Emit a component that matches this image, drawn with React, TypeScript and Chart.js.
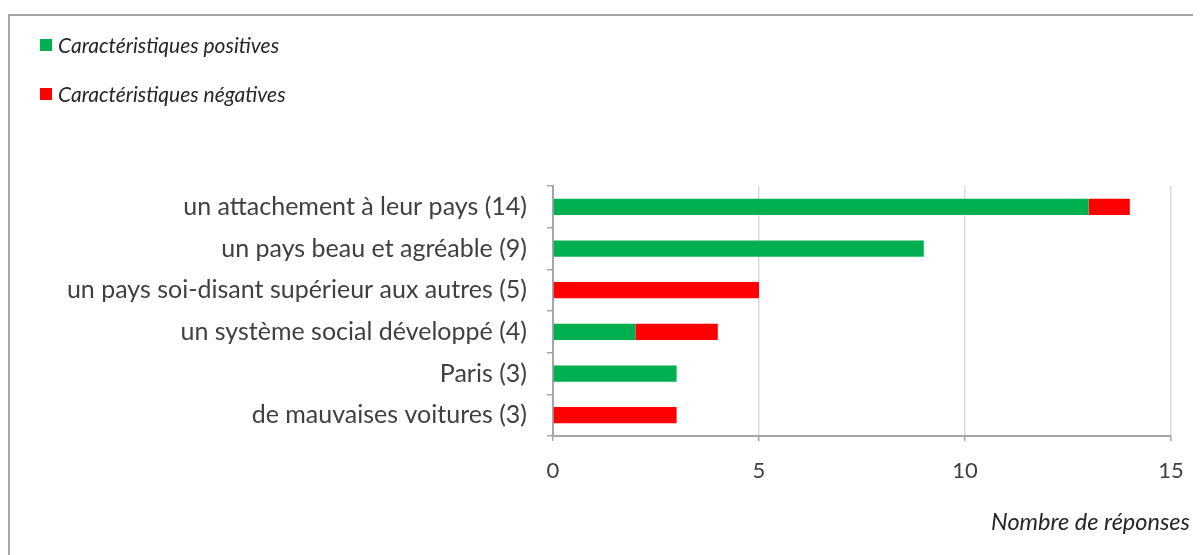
import React, { useEffect, useRef } from "react";
import { Chart, registerables } from "chart.js";

Chart.register(...registerables);

const categories = [
  "un attachement à leur pays (14)",
  "un pays beau et agréable (9)",
  "un pays soi-disant supérieur aux autres (5)",
  "un système social développé (4)",
  "Paris (3)",
  "de mauvaises voitures (3)",
];
const positiveValues = [13, 9, 0, 2, 3, 0];
const negativeValues = [1, 0, 5, 2, 0, 3];
const seriesNames = ["Caractéristiques positives", "Caractéristiques négatives"];
const seriesColors = ["#00b050", "#ff0000"];
const axisTitle = "Nombre de réponses";

const FONT = "Lato, sans-serif";
const TEXT = "#404040";

export default function App() {
  const ref = useRef<HTMLCanvasElement | null>(null);

  useEffect(() => {
    document.body.style.overflow = "hidden";
    const ctx = ref.current!;
    const chart = new Chart(ctx, {
      type: "bar",
      data: {
        labels: categories,
        datasets: [
          {
            label: seriesNames[0],
            data: positiveValues,
            backgroundColor: seriesColors[0],
            barPercentage: 0.78,
            categoryPercentage: 0.5,
          },
          {
            label: seriesNames[1],
            data: negativeValues,
            backgroundColor: seriesColors[1],
            barPercentage: 0.78,
            categoryPercentage: 0.5,
          },
        ],
      },
      options: {
        indexAxis: "y",
        responsive: false,
        animation: false,
        layout: { padding: { top: 178, right: 30, left: 0, bottom: 0 } },
        plugins: {
          legend: { display: false },
          tooltip: { enabled: false },
        },
        scales: {
          x: {
            stacked: true,
            min: 0,
            max: 15,
            ticks: {
              stepSize: 5,
              color: TEXT,
              font: { family: FONT, size: 22 },
              padding: 17,
            },
            grid: {
              color: "#d9d9d9",
              lineWidth: 1.5,
              tickLength: 5,
              tickColor: "#a6a6a6",
            },
            border: { color: "#a6a6a6", width: 2 },
            afterFit: (s: any) => {
              s.height = 119;
            },
          },
          y: {
            stacked: true,
            ticks: {
              color: TEXT,
              font: { family: FONT, size: 25 },
              padding: 20,
            },
            grid: {
              drawOnChartArea: false,
              tickLength: 6,
              color: "#a6a6a6",
              lineWidth: 1.5,
            },
            border: { color: "#a6a6a6", width: 2 },
            afterFit: (s: any) => {
              s.width = 545;
            },
          },
        },
      },
    });
    return () => chart.destroy();
  }, []);

  const legendItem = (i: number, top: number) => (
    <div
      key={i}
      style={{
        position: "absolute",
        left: 32,
        top,
        display: "flex",
        alignItems: "center",
        fontFamily: FONT,
        fontStyle: "italic",
        fontSize: 21,
        lineHeight: "25px",
        color: "#262626",
        whiteSpace: "nowrap",
      }}
    >
      <span
        style={{
          display: "inline-block",
          width: 12,
          height: 12,
          background: seriesColors[i],
          marginRight: 6,
        }}
      />
      {seriesNames[i]}
    </div>
  );

  return (
    <div style={{ position: "relative", width: 1193, height: 547 }}>
      <div
        style={{
          position: "absolute",
          left: 0,
          top: 6,
          width: 1220,
          height: 600,
          borderTop: "2px solid #a6a6a6",
          borderLeft: "2px solid #a6a6a6",
          boxSizing: "border-box",
        }}
      />
      <canvas
        ref={ref}
        width={1193}
        height={547}
        style={{ position: "absolute", left: 0, top: 0 }}
      />
      {legendItem(0, 24)}
      {legendItem(1, 73)}
      <div
        style={{
          position: "absolute",
          right: 11,
          top: 499,
          fontFamily: FONT,
          fontStyle: "italic",
          fontSize: 23.5,
          lineHeight: "28px",
          color: "#262626",
          whiteSpace: "nowrap",
        }}
      >
        {axisTitle}
      </div>
    </div>
  );
}
